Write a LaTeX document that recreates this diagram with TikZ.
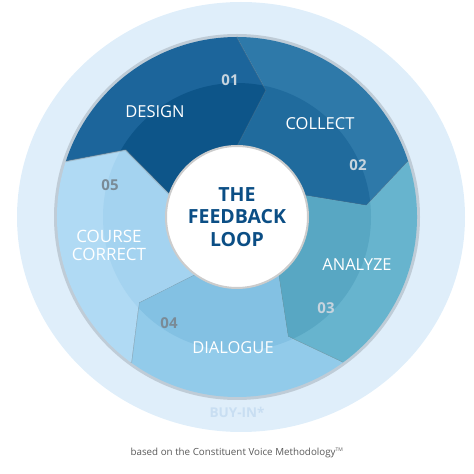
\documentclass[tikz,border=0pt]{standalone}
\usepackage{fontspec}
\setmainfont{Open Sans}
\usetikzlibrary{positioning}

\definecolor{haloblue}{HTML}{DFEEFA}
\definecolor{buyblue}{HTML}{C8DEF2}
\definecolor{titleblue}{HTML}{0B4E85}
\definecolor{designout}{HTML}{1C659B}
\definecolor{designin}{HTML}{0D5589}
\definecolor{collectout}{HTML}{2E79A9}
\definecolor{collectin}{HTML}{206B9D}
\definecolor{analyzeout}{HTML}{67B4CE}
\definecolor{analyzein}{HTML}{58A7C3}
\definecolor{dialogueout}{HTML}{92CBEA}
\definecolor{dialoguein}{HTML}{83C1E3}
\definecolor{courseout}{HTML}{B0DAF4}
\definecolor{coursein}{HTML}{A4D3F0}
\definecolor{numlight}{HTML}{C6D4DE}
\definecolor{numdark}{HTML}{7A8B97}

\tikzset{
  steplabel/.style={text=white, font=\fontsize{16.5}{18}\selectfont},
  stepnum/.style={font=\bfseries\fontsize{15}{15}\selectfont},
}

\begin{document}
\begin{tikzpicture}[x=1pt, y=1pt]
  \useasboundingbox (0,0) rectangle (474,474);
  \coordinate (O) at (237,257);

  % halo and shadow under the ring
  \fill[haloblue] (241,257) ellipse[x radius=224, y radius=215];
  \fill[black!40!haloblue, opacity=.35] (O) circle[radius=183pt];

  % the five arrow segments
  \begin{scope}[shift={(O)}]
    \foreach \a/\co/\ci in {162/designout/designin, 90/collectout/collectin,
        18/analyzeout/analyzein, -54/dialogueout/dialoguein, -126/courseout/coursein} {
      \begin{scope}
        \clip ({\a}:180pt) arc[start angle=\a, end angle=\a-72, radius=180pt]
          -- ({\a-85}:130pt) -- ({\a-72}:70pt)
          arc[start angle=\a-72, end angle=\a, radius=70pt]
          -- ({\a-13}:130pt) -- cycle;
        \fill[\co] (0,0) circle[radius=181pt];
        \fill[\ci] (0,0) circle[radius=134pt];
      \end{scope}
      \draw[black!50, opacity=.35, line width=1.5pt, line join=round]
        ({\a-72}:180pt) -- ({\a-85}:130pt) -- ({\a-72}:70pt);
    }
  \end{scope}

  % centre
  \node[circle, fill=white, draw=black!20, line width=2pt, minimum size=142pt,
        align=center, text=titleblue,
        font=\bfseries\fontsize{19.5}{22.5}\selectfont] (hub) at (O) {THE\\FEEDBACK\\LOOP};

  % steps
  \node[steplabel] (design) at (155,362) {DESIGN};
  \node[steplabel] (collect) at (320,350) {COLLECT};
  \node[steplabel] (analyze) at (357,209) {ANALYZE};
  \node[steplabel] (dialogue) at (233,126) {DIALOGUE};
  \node[steplabel, align=center, font=\fontsize{17}{18}\selectfont] (correct) at (109,229) {COURSE\\CORRECT};

  \node[stepnum, text=numlight] (num1) at (230,394) {01};
  \node[stepnum, text=numlight] (num2) at (358,309) {02};
  \node[stepnum, text=numlight] (num3) at (326,166) {03};
  \node[stepnum, text=numdark] (num4) at (169,151) {04};
  \node[stepnum, text=numdark] (num5) at (110,289) {05};

  \node[text=buyblue, font=\bfseries\fontsize{13.5}{14}\selectfont] (buyin) at (237,62) {BUY-IN*};
  \node[text=black!65, font=\fontsize{9.8}{10}\selectfont] (credit) at (237,21)
    {based on the Constituent Voice Methodology\textsuperscript{\fontsize{5}{5}\selectfont TM}};
\end{tikzpicture}
\end{document}
